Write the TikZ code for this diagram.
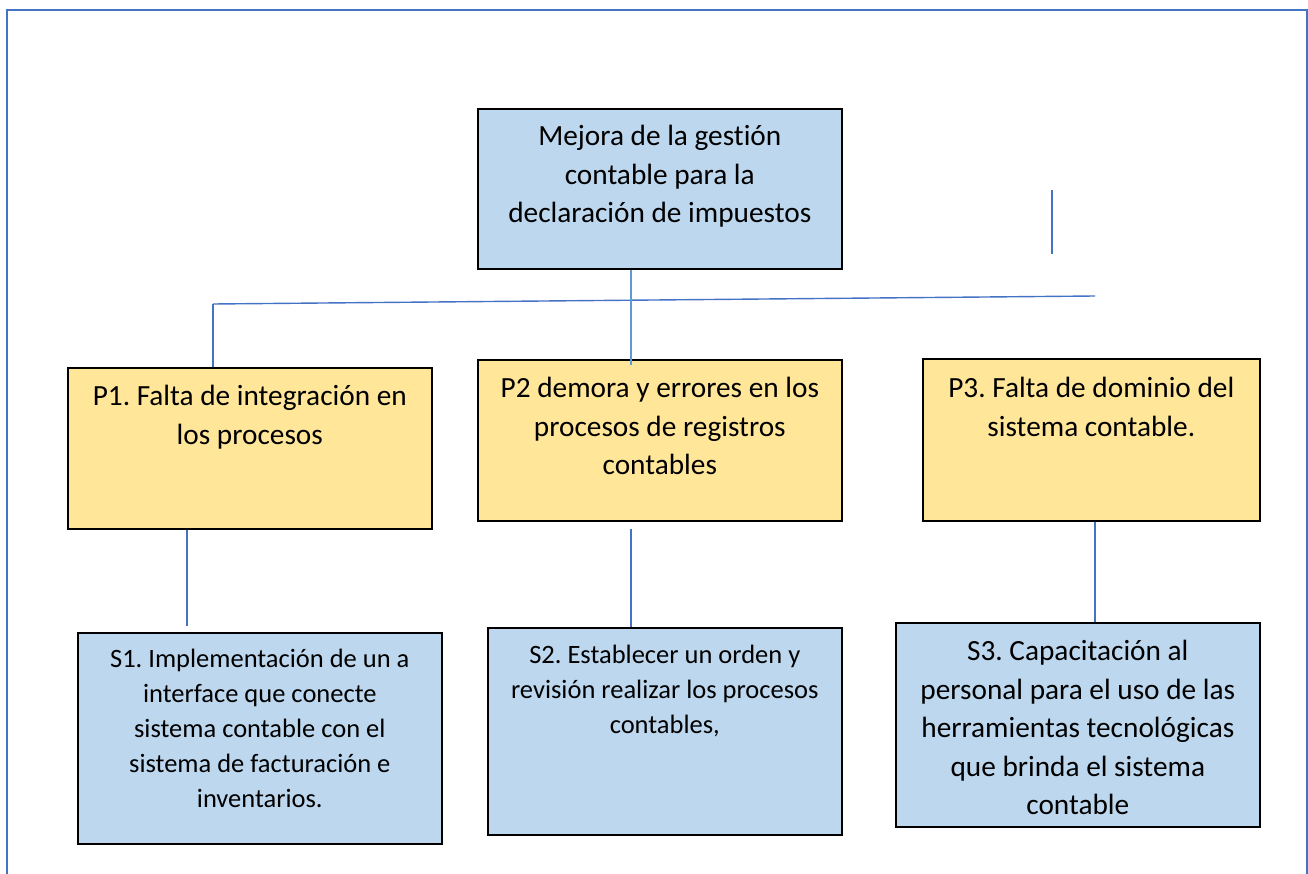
\documentclass[tikz,border=0pt]{standalone}
\usepackage{fontspec}
\setmainfont[Ligatures={NoCommon}]{Carlito}
\frenchspacing
\usetikzlibrary{calc}
\definecolor{boxblue}{HTML}{BDD7EE}
\definecolor{boxyellow}{HTML}{FFE699}
\definecolor{linkblue}{HTML}{4472C4}
\definecolor{lightlink}{HTML}{5B9BD5}
\newcommand\bxt[4]{\parbox[c][#2][t]{#1}{\centering\frenchspacing\rule{0pt}{#3}#4\par}}
\begin{document}
\begin{tikzpicture}[x=1pt,y=-1pt,
  box/.style={draw=black,line width=1.6pt,inner sep=0pt,anchor=north west},
  bigtxt/.style={font=\fontsize{29.3}{38.5}\selectfont},
  smalltxt/.style={font=\fontsize{26.5}{35}\selectfont},
  link/.style={draw=linkblue,line width=1.4pt},
  lightlink/.style={draw=lightlink,line width=1.8pt},
  frame/.style={draw=linkblue,line width=2pt}]
\useasboundingbox (0,0) rectangle (1308,874);
\draw[frame] (7,874) -- (7,10.5) -- (1307,10.5) -- (1307,874);

\node[box,fill=boxblue,bigtxt] (top) at (477,108)
  {\bxt{364pt}{160pt}{37pt}{Mejora de la gestión\\contable para la\\declaración de impuestos}};
\node[box,fill=boxyellow,bigtxt] (p1) at (67,367)
  {\bxt{364pt}{161pt}{38pt}{P1. Falta de integración en\\los procesos}};
\node[box,fill=boxyellow,bigtxt] (p2) at (477,359)
  {\bxt{364pt}{161pt}{38pt}{P2 demora y errores en los\\procesos de registros\\contables}};
\node[box,fill=boxyellow,bigtxt] (p3) at (922,358)
  {\bxt{337pt}{162pt}{39pt}{P3. Falta de dominio del\\sistema contable.}};
\node[box,fill=boxblue,smalltxt] (s1) at (77,632)
  {\bxt{364pt}{211pt}{35pt}{S1. Implementación de un a\\interface que conecte\\sistema contable con el\\sistema de facturación e\\inventarios.}};
\node[box,fill=boxblue,smalltxt] (s2) at (487,627)
  {\bxt{354pt}{207pt}{36pt}{S2. Establecer un orden y\\revisión realizar los procesos\\contables,}};
\node[box,fill=boxblue,bigtxt] (s3) at (895,622)
  {\bxt{364pt}{204pt}{38pt}{S3. Capacitación al\\personal para el uso de las\\herramientas tecnológicas\\que brinda el sistema\\contable}};

\coordinate (hl) at (213,304);
\coordinate (hr) at (1095,296);
\coordinate (tv) at (631,0);
\coordinate (c1) at (187,0);
\coordinate (c3) at (1095,0);
\coordinate (st) at (1052,190);
\coordinate (sb) at (1052,254);

\draw[link] (hl) -- (hr);
\draw[link] (hl) -- (hl |- p1.north);
\draw[lightlink] (tv |- top.south) -- ($(tv |- p2.north)+(0,6)$);
\draw[link] (st) -- (sb);
\draw[link] (c1 |- p1.south) -- ($(c1 |- s1.north)+(0,-6)$);
\draw[link] ($(tv |- p2.south)+(0,7)$) -- (tv |- s2.north);
\draw[link] (c3 |- p3.south) -- (c3 |- s3.north);
\end{tikzpicture}
\end{document}
